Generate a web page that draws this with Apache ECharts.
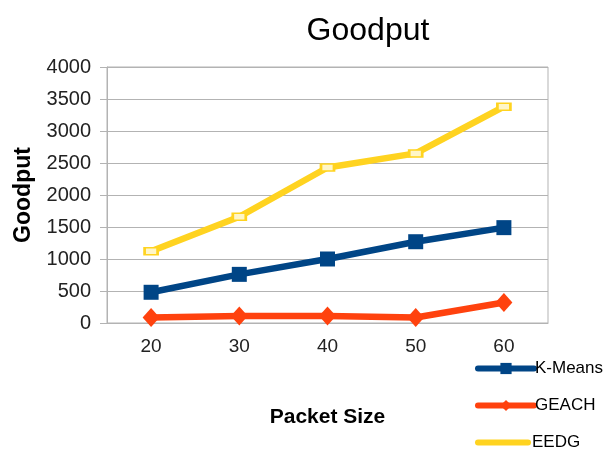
<!DOCTYPE html>
<html>
<head>
<meta charset="utf-8">
<script src="https://cdn.jsdelivr.net/npm/echarts@6/dist/echarts.min.js"></script>
<style>
  html, body { margin: 0; padding: 0; background: #fff; }
  #chart { width: 609px; height: 450px; }
</style>
</head>
<body>
<div id="chart"></div>
<script>
// Goodput by packet size for three clustering schemes
const packetSizes = ['20', '30', '40', '50', '60'];
const kMeans = [480, 760, 1000, 1270, 1490];
const geach  = [85, 110, 110, 85, 320];
const eedg   = [1120, 1660, 2430, 2650, 3380];
const yTicks = { min: 0, max: 4000, interval: 500 };
const seriesNames = ['K-Means', 'GEACH', 'EEDG'];

const FONT = '"Liberation Sans", Arial, sans-serif';
const chart = echarts.init(document.getElementById('chart'));

// one legend box per series, stacked down the bottom-right corner;
// EEDG's key is a plain thick bar
const legendItem = name => name === 'EEDG'
  ? { name, icon: 'path://M3,0 L53,0 A3,3 0 0 1 53,6 L3,6 A3,3 0 0 1 3,0 Z',
      itemStyle: { color: '#ffd320', borderWidth: 0 } }
  : name;

const legends = seriesNames.map((name, i) => ({
  orient: 'vertical',
  left: 475, top: 360 + i * 37,
  padding: 0,
  itemWidth: 56, itemHeight: 14,
  lineStyle: { width: 6, cap: 'round' },
  textStyle: { fontFamily: FONT, fontSize: 17, color: '#000', padding: [0, 0, 0, -4] },
  data: [legendItem(name)]
}));

chart.setOption({
  animation: false,
  backgroundColor: '#ffffff',
  textStyle: { fontFamily: FONT },
  title: {
    text: 'Goodput',
    left: 363, top: 10,
    textAlign: 'center',
    textStyle: { fontFamily: FONT, fontSize: 32, fontWeight: 'normal', color: '#000' }
  },
  grid: {
    left: 107, right: 61, top: 67, bottom: 127,
    show: true, borderColor: '#b3b3b3', borderWidth: 1
  },
  legend: legends,
  xAxis: {
    type: 'category',
    data: packetSizes,
    boundaryGap: true,
    name: 'Packet Size',
    nameLocation: 'middle',
    nameGap: 84,
    nameTextStyle: { fontFamily: FONT, fontSize: 21, fontWeight: 'bold', color: '#000' },
    axisLine: { lineStyle: { color: '#b3b3b3' } },
    axisTick: { alignWithLabel: true, length: 6, lineStyle: { color: '#b3b3b3' } },
    axisLabel: { fontFamily: FONT, fontSize: 19, color: '#222', margin: 14 },
    splitLine: { show: false }
  },
  yAxis: {
    type: 'value',
    min: yTicks.min, max: yTicks.max, interval: yTicks.interval,
    name: 'Goodput',
    nameLocation: 'middle',
    nameGap: 56,
    nameTextStyle: { fontFamily: FONT, fontSize: 23, fontWeight: 'bold', color: '#000' },
    axisLine: { show: true, lineStyle: { color: '#b3b3b3' } },
    axisTick: { show: true, length: 7, lineStyle: { color: '#b3b3b3' } },
    axisLabel: {
      fontFamily: FONT, fontSize: 20, color: '#222', margin: 16,
      formatter: v => String(v)
    },
    splitLine: { lineStyle: { color: '#b3b3b3', width: 1 } }
  },
  series: [
    {
      name: 'K-Means', type: 'line', data: kMeans,
      symbol: 'rect', symbolSize: 15,
      lineStyle: { color: '#004586', width: 6.5 },
      itemStyle: { color: '#004586' },
      z: 3
    },
    {
      name: 'GEACH', type: 'line', data: geach,
      symbol: 'diamond', symbolSize: [17, 19],
      lineStyle: { color: '#ff420e', width: 6.5 },
      itemStyle: { color: '#ff420e' },
      z: 2
    },
    {
      name: 'EEDG', type: 'line', data: eedg,
      symbol: 'rect', symbolSize: [13, 7],
      lineStyle: { color: '#ffd320', width: 6.5 },
      itemStyle: { color: '#fff6c8', borderColor: '#ffd320', borderWidth: 2 },
      z: 1
    }
  ]
});
</script>
</body>
</html>
